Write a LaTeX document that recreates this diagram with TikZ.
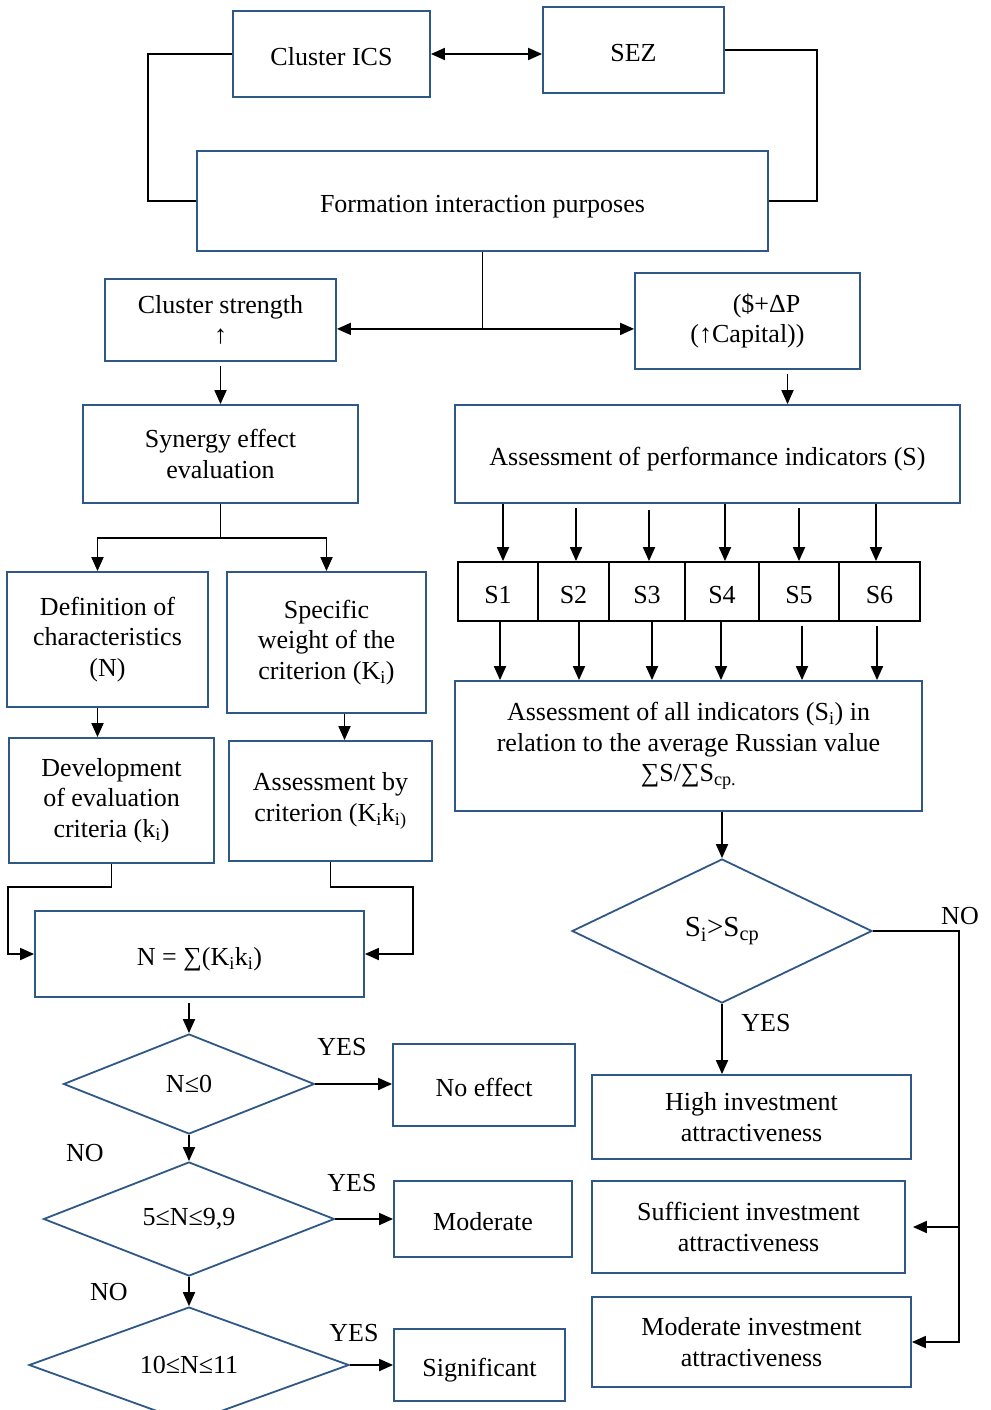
\documentclass[tikz,border=0pt]{standalone}
\usepackage{fontspec}
\setmainfont{Liberation Serif}
\usetikzlibrary{arrows.meta,shapes.geometric}
\definecolor{bb}{RGB}{47,88,135}
\newcommand\fsz{\fontsize{26}{30.5}\selectfont}
\begin{document}
\begin{tikzpicture}[x=1pt,y=-1pt,
  box/.style={draw=bb,line width=1.8pt,rectangle,inner sep=0pt,align=center,font=\fsz},
  sbox/.style={draw=black,line width=1.8pt,rectangle,inner sep=0pt,align=center,font=\fsz},
  dia/.style={draw=bb,line width=1.8pt,diamond,inner sep=0pt,align=center,font=\fsz},
  wh/.style 2 args={minimum width=#1pt,minimum height=#2pt},
  lo/.style={text height=23pt,text depth=0pt},
  lbl/.style={font=\fsz,inner sep=0pt},
  ln/.style={line width=1.8pt,black},
  arr/.style={ln,-{Triangle[length=14pt,width=12pt]}},
  dbl/.style={ln,{Triangle[length=14pt,width=12pt]}-{Triangle[length=14pt,width=12pt]}}]
\fill[white] (0,0) rectangle (990,1410);
\useasboundingbox (0,0) rectangle (990,1410);

% top
\node[box,lo,wh={197}{86}] (ics) at (331.5,54) {Cluster ICS};
\node[box,lo,wh={181}{86}] (sez) at (633.5,50) {SEZ};
\node[box,lo,wh={571}{100}] (form) at (482.5,201) {Formation interaction purposes};
\node[box,wh={231}{82}] (cs) at (220.5,320) {Cluster strength\\↑};
\node[box,wh={225}{96}] (cap) at (747.5,321) {\hspace*{38pt}(\$+ΔP\\(↑Capital))};

% left column
\node[box,wh={275}{98}] (syn) at (220.5,454) {Synergy effect\\evaluation};
\node[box,wh={201}{135}] (def) at (107.5,639.5) {Definition of\\characteristics\\(N)};
\node[box,wh={199}{141}] (spec) at (326.5,642.5) {Specific\\weight of the\\criterion (K\textsubscript{i})};
\node[box,wh={205}{125}] (dev) at (111.5,800.5) {Development\\of evaluation\\criteria (k\textsubscript{i})};
\node[box,wh={203}{120}] (ab) at (330.5,801) {Assessment by\\criterion (K\textsubscript{i}k\textsubscript{i)}};
\node[box,lo,wh={329}{86}] (nbox) at (199.5,954) {N = ∑(K\textsubscript{i}k\textsubscript{i})};
\node[dia,wh={251}{100}] (d1) at (189,1084) {N≤0};
\node[dia,wh={291}{108}] (d2) at (189,1219) {5≤N≤9,9};
\node[dia,wh={320}{96}] (d3) at (189,1365) {10≤N≤11};
\node[box,lo,wh={182}{82}] (noeff) at (484,1085) {No effect};
\node[box,lo,wh={178}{76}] (mod) at (483,1219) {Moderate};
\node[box,lo,wh={171}{72}] (sig) at (479.5,1365) {Significant};

% right column
\node[box,lo,wh={505}{98}] (aperf) at (707.5,454) {Assessment of performance indicators (S)};
\node[sbox,lo,wh={80}{59}] (s1) at (498,591.5) {S1};
\node[sbox,lo,wh={71}{59}] (s2) at (573.5,591.5) {S2};
\node[sbox,lo,wh={76}{59}] (s3) at (647,591.5) {S3};
\node[sbox,lo,wh={74}{59}] (s4) at (722,591.5) {S4};
\node[sbox,lo,wh={80}{59}] (s5) at (799,591.5) {S5};
\node[sbox,lo,wh={81}{59}] (s6) at (879.5,591.5) {S6};
\node[box,wh={467}{130}] (all) at (688.5,746) {Assessment of all indicators (S\textsubscript{i}) in\\relation to the average Russian value\\∑S/∑S\textsubscript{cp.}};
\node[dia,wh={300}{144},font=\fontsize{29}{32}\selectfont] (d4) at (722,931) {S\textsubscript{i}>S\textsubscript{cp}};
\node[box,wh={319}{84}] (high) at (751.5,1117) {High investment\\attractiveness};
\node[box,wh={313}{92}] (suff) at (748.5,1227) {Sufficient investment\\attractiveness};
\node[box,wh={319}{90}] (modi) at (751.5,1342) {Moderate investment\\attractiveness};

% labels
\node[lbl] (y1) at (342,1047) {YES};
\node[lbl] (n1) at (85,1153) {NO};
\node[lbl] (y2) at (352,1183) {YES};
\node[lbl] (n2) at (109,1292) {NO};
\node[lbl] (y3) at (354,1333) {YES};
\node[lbl] (n4) at (960,916) {NO};
\node[lbl] (y4) at (766,1023) {YES};

% connectors top
\draw[dbl] (ics.east) -- (ics.east -| sez.west);
\draw[ln] (ics.west) -- ++(-84,0) |- (form.west);
\draw[ln] (sez.east) -- ++(92,0) |- (form.east);
\draw[ln] (form.south) -- ++(0,77) coordinate (fj);
\draw[arr] (fj) -- (fj -| cs.east);
\draw[arr] (fj) -- (fj -| cap.west);
\draw[arr,shorten <=4pt] (cs.south) -- (syn.north);
\draw[arr,shorten <=4pt] ([xshift=40pt]cap.south) -- ([xshift=40pt]cap.south |- aperf.north);

% left connectors
\draw[ln] (syn.south) -- ++(0,34) coordinate (sj);
\draw[arr] (sj) -| ([xshift=-10pt]def.north);
\draw[arr] (sj) -| (spec.north);
\draw[arr] ([xshift=-10pt]def.south) -- ([xshift=-10pt]def.south |- dev.north);
\draw[arr] ([xshift=18pt]spec.south) -- ([xshift=18pt]spec.south |- ab.north);
\draw[arr] (dev.south) -- ++(0,23) -| ([xshift=-26pt]nbox.west) -- (nbox.west);
\draw[arr] (ab.south) -- ++(0,25) -| ([xshift=48pt]nbox.east) -- (nbox.east);
\draw[arr,shorten <=5pt] ([xshift=-10.5pt]nbox.south) -- (d1.north);
\draw[arr] (d1.east) -- (d1.east -| noeff.west);
\draw[arr] (d1.south) -- (d2.north);
\draw[arr] (d2.east) -- (d2.east -| mod.west);
\draw[arr] (d2.south) -- (d3.north);
\draw[arr] (d3.east) -- (d3.east -| sig.west);

% right connectors
\draw[arr] ([xshift=5pt]s1.north |- aperf.south) -- ([xshift=5pt]s1.north);
\draw[arr,shorten <=4pt] ([xshift=2.5pt]s2.north |- aperf.south) -- ([xshift=2.5pt]s2.north);
\draw[arr,shorten <=6pt] ([xshift=2pt]s3.north |- aperf.south) -- ([xshift=2pt]s3.north);
\draw[arr] ([xshift=3pt]s4.north |- aperf.south) -- ([xshift=3pt]s4.north);
\draw[arr,shorten <=4pt] (s5.north |- aperf.south) -- (s5.north);
\draw[arr] ([xshift=-3.5pt]s6.north |- aperf.south) -- ([xshift=-3.5pt]s6.north);
\draw[arr] ([xshift=2pt]s1.south) -- ([xshift=2pt]s1.south |- all.north);
\draw[arr] ([xshift=5.5pt]s2.south) -- ([xshift=5.5pt]s2.south |- all.north);
\draw[arr] ([xshift=5pt]s3.south) -- ([xshift=5pt]s3.south |- all.north);
\draw[arr] ([xshift=-1pt]s4.south) -- ([xshift=-1pt]s4.south |- all.north);
\draw[arr,shorten <=4pt] ([xshift=3pt]s5.south) -- ([xshift=3pt]s5.south |- all.north);
\draw[arr,shorten <=4pt] ([xshift=-2.5pt]s6.south) -- ([xshift=-2.5pt]s6.south |- all.north);
\draw[arr] (d4.north |- all.south) -- (d4.north);
\draw[arr] (d4.south) -- (d4.south |- high.north);
\draw[arr] (d4.east) -| ([xshift=47pt]modi.east) -- (modi.east);
\draw[arr] ([xshift=47pt]modi.east |- suff.east) -- ([xshift=7pt]suff.east);
\end{tikzpicture}
\end{document}
